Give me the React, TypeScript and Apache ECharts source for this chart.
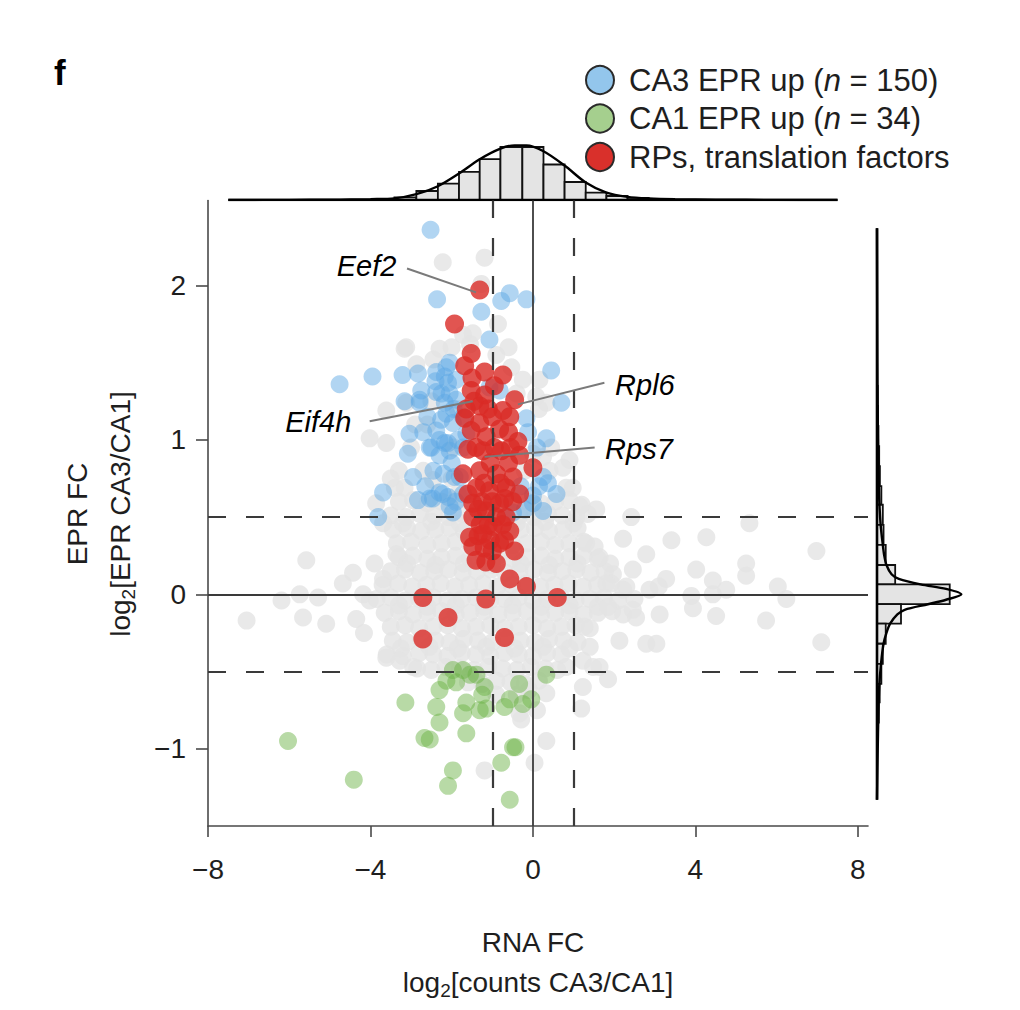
import React, { useEffect, useRef } from "react";
import * as echarts from "echarts";

const FONT = "'Liberation Sans', Arial, Helvetica, sans-serif";

// ---------- axis ticks ----------
const xTickValues = [-8, -4, 0, 4, 8];
const yTickValues = [-1, 0, 1, 2];
const xRange = [-8, 8.25];
const yRange = [-1.5, 2.55];

// ---------- legend ----------
const legendLabels = [
  "CA3 EPR up ({i|n} = 150)",
  "CA1 EPR up ({i|n} = 34)",
  "RPs, translation factors",
];

// ---------- reference lines ----------
const solidX = [0];
const solidY = [0];
const dashedX = [-1, 1];
const dashedY = [-0.5, 0.5];

// ---------- points: RNA FC (x), EPR FC (y) ----------
const grayCore: number[][] = [
  [-3.3,0.6],[-2.95,0.61],[-2.6,0.59],[-2.25,0.6],[-1.9,0.61],[-1.55,0.6],[-1.2,0.59],[-0.85,0.6],[-0.5,0.61],[-0.15,0.6],[0.2,0.59],[0.55,0.6],[0.9,0.61],[1.2,0.58],
  [-3.5,0.51],[-3.12,0.5],[-2.78,0.52],[-2.43,0.51],[-2.08,0.5],[-1.73,0.52],[-1.38,0.51],[-1.03,0.5],[-0.68,0.52],[-0.33,0.51],[0.02,0.5],[0.37,0.52],[0.72,0.51],[1.07,0.5],[1.35,0.52],
  [-3.45,0.42],[-3.1,0.43],[-2.75,0.41],[-2.4,0.42],[-2.05,0.43],[-1.7,0.41],[-1.35,0.42],[-1.0,0.43],[-0.65,0.41],[-0.3,0.42],[0.05,0.43],[0.4,0.41],[0.75,0.42],[1.1,0.43],
  [-3.35,0.33],[-3.0,0.34],[-2.6,0.32],[-2.25,0.33],[-1.9,0.34],[-1.55,0.32],[-1.2,0.33],[-0.85,0.34],[-0.5,0.32],[-0.15,0.33],[0.2,0.34],[0.55,0.32],[0.9,0.33],[1.25,0.34],
  [-3.3,0.24],[-2.95,0.25],[-2.6,0.23],[-2.25,0.24],[-1.9,0.25],[-1.55,0.23],[-1.2,0.24],[-0.85,0.25],[-0.5,0.23],[-0.15,0.24],[0.2,0.25],[0.55,0.23],[0.9,0.24],[1.25,0.25],[1.6,0.23],
  [-3.5,0.15],[-3.15,0.16],[-2.78,0.14],[-2.43,0.15],[-2.08,0.16],[-1.73,0.14],[-1.38,0.15],[-1.03,0.16],[-0.68,0.14],[-0.33,0.15],[0.02,0.16],[0.37,0.14],[0.72,0.15],[1.07,0.16],[1.42,0.14],[1.77,0.15],
  [-3.7,0.06],[-3.32,0.07],[-2.97,0.05],[-2.62,0.06],[-2.27,0.07],[-1.92,0.05],[-1.57,0.06],[-1.22,0.07],[-0.87,0.05],[-0.52,0.06],[-0.17,0.07],[0.18,0.05],[0.53,0.06],[0.88,0.07],[1.23,0.05],[1.58,0.06],[1.93,0.07],[2.3,0.05],
  [-3.85,-0.03],[-3.5,-0.02],[-3.15,-0.04],[-2.8,-0.03],[-2.45,-0.02],[-2.1,-0.04],[-1.75,-0.03],[-1.4,-0.02],[-1.05,-0.04],[-0.7,-0.03],[-0.35,-0.02],[0.0,-0.04],[0.35,-0.03],[0.7,-0.02],[1.05,-0.04],[1.4,-0.03],[1.75,-0.02],[2.1,-0.04],[2.5,-0.03],
  [-3.65,-0.12],[-3.3,-0.11],[-2.95,-0.13],[-2.6,-0.12],[-2.25,-0.11],[-1.9,-0.13],[-1.55,-0.12],[-1.2,-0.11],[-0.85,-0.13],[-0.5,-0.12],[-0.15,-0.11],[0.2,-0.13],[0.55,-0.12],[0.9,-0.11],[1.25,-0.13],[1.6,-0.12],[1.95,-0.11],
  [-3.5,-0.21],[-3.15,-0.2],[-2.8,-0.22],[-2.45,-0.21],[-2.1,-0.2],[-1.75,-0.22],[-1.4,-0.21],[-1.05,-0.2],[-0.7,-0.22],[-0.35,-0.21],[0.0,-0.2],[0.35,-0.22],[0.7,-0.21],[1.05,-0.2],[1.4,-0.22],
  [-3.45,-0.3],[-3.1,-0.31],[-2.75,-0.29],[-2.4,-0.3],[-2.05,-0.31],[-1.7,-0.29],[-1.35,-0.3],[-1.0,-0.31],[-0.65,-0.29],[-0.3,-0.3],[0.05,-0.31],[0.4,-0.29],[0.75,-0.3],[1.1,-0.31],
  [-3.6,-0.39],[-3.2,-0.4],[-2.8,-0.38],[-2.45,-0.39],[-2.1,-0.4],[-1.75,-0.38],[-1.4,-0.39],[-1.05,-0.4],[-0.7,-0.38],[-0.35,-0.39],[0.0,-0.4],[0.35,-0.38],[0.7,-0.39],
  [-2.85,-0.48],[-2.5,-0.49],[-2.15,-0.47],[-1.8,-0.48],[-1.45,-0.49],[-1.1,-0.47],[-0.75,-0.48],[-0.4,-0.49],[-0.05,-0.47],[0.3,-0.48],[0.6,-0.49],
  [-1.6,-0.57],[-1.25,-0.58],[-0.9,-0.56],[-0.55,-0.57],[-0.2,-0.58],[0.15,-0.56],
  [-3.2,0.46],[-2.5,0.47],[-1.8,0.46],[-1.1,0.47],[-0.4,0.46],[0.3,0.47],[1.0,0.46],
  [-3.1,0.2],[-2.4,0.19],[-1.7,0.2],[-1.0,0.19],[-0.3,0.2],[0.4,0.19],[1.1,0.2],[1.9,0.2],
  [-3.3,-0.07],[-2.6,-0.08],[-1.9,-0.07],[-1.2,-0.08],[-0.5,-0.07],[0.2,-0.08],[0.9,-0.07],[1.6,-0.08],
  [-3.25,-0.35],[-2.55,-0.34],[-1.85,-0.35],[-1.15,-0.34],[-0.45,-0.35],[0.25,-0.34],[0.9,-0.35],
];

const grayLeft: number[][] = [
  [-7.05,-0.17],[-6.19,-0.04],[-5.74,0.0],[-5.66,-0.15],[-5.58,0.22],[-5.29,-0.02],[-5.09,-0.19],
  [-4.68,0.07],[-4.43,0.14],[-4.35,-0.16],[-4.16,-0.25],[-4.02,-0.04],[-4.18,0.0],[-3.9,0.2],
  [-3.69,0.10],[-3.36,0.26],[-3.61,-0.41],[-3.28,-0.43],[-2.95,-0.47],[-3.86,0.59],[-3.69,0.46],
];

const grayRight: number[][] = [
  [0.98,0.69],[1.56,0.55],[2.42,0.50],[2.22,0.36],[3.41,0.35],[4.27,0.37],[5.33,0.46],[6.98,0.28],
  [2.79,0.26],[1.52,0.31],[1.97,0.13],[2.46,0.16],[3.28,0.10],[4.02,0.16],[4.43,0.09],[5.25,0.20],
  [5.25,0.12],[1.81,0.07],[2.22,0.03],[2.87,0.03],[3.1,0.05],[3.90,-0.01],[4.43,0.0],[4.76,0.03],
  [6.03,0.05],[6.24,-0.03],[1.85,-0.08],[2.22,-0.13],[2.54,-0.15],[3.12,-0.13],[3.94,-0.09],
  [4.51,-0.14],[5.74,-0.17],[1.27,-0.21],[3.04,-0.32],[7.10,-0.31],[1.40,-0.34],[1.23,-0.43],
  [1.64,-0.47],[2.13,-0.30],[2.79,-0.32],[1.48,-0.47],[1.85,-0.55],[1.23,-0.60],[1.19,-0.74],
  [2.46,-0.10],[1.31,0.33],[1.64,0.24],[0.82,-0.47],
];

const grayBelow: number[][] = [
  [-1.19,-1.14],[-0.29,-0.81],[0.04,-1.09],[0.33,-0.95],[0.33,-0.64],[-0.1,-0.62],[0.1,-0.75],
  [-0.4,-0.65],[-0.9,-0.65],[-0.33,-0.77],
];

const grayTop: number[][] = [
  [-1.19,2.18],[-2.22,2.15],[-1.27,2.01],[-0.86,1.75],[-1.72,1.68],[-1.48,1.69],[-3.16,1.59],
  [-2.30,1.59],[-2.87,1.49],[-0.53,1.47],[-0.25,1.39],[-3.61,1.19],[-4.02,1.01],[-3.61,0.98],
  [-3.12,1.24],[0.33,1.24],[0.16,1.39],[0.08,1.28],[0.90,0.87],[0.74,0.82],[0.41,0.80],[0.82,0.69],
  [1.15,0.57],[-3.16,0.69],[-3.40,0.69],[-2.46,0.74],[0.0,0.91],[0.25,0.89],[-3.12,1.60],
  [-3.3,0.8],[-2.7,0.8],[-2.0,0.75],[-2.6,1.1],[-1.95,0.95],[-2.9,1.1],[-2.5,1.25],[-1.85,1.2],
  [-2.45,1.52],[-2.0,1.6],[-1.55,1.62],[-0.9,1.55],[-0.6,1.6],[-0.4,1.3],[-0.2,0.8],[0.45,0.95],
  [0.15,1.2],[-1.85,0.65],[-3.5,0.75],[-3.0,0.95],
];

const bluePoints: number[][] = [
  [-2.52,2.36],[-2.36,1.91],[-0.78,1.90],[-0.57,1.95],[-0.16,1.91],[-1.27,1.83],[-1.07,1.65],
  [-4.76,1.36],[-3.95,1.41],[-3.21,1.42],[-2.83,1.43],[-2.38,1.44],[-2.05,1.50],[-2.17,1.41],
  [-1.89,1.39],[0.45,1.45],[0.70,1.24],[-2.75,1.32],[-2.38,1.31],[-2.05,1.30],[-0.82,1.32],
  [-2.79,1.24],[-3.16,1.25],[-2.13,1.17],[-1.97,1.11],[-3.04,1.04],[-2.38,1.06],[-2.30,1.00],
  [-2.26,1.13],[-0.16,1.14],[-0.12,1.05],[0.33,1.01],[-2.50,0.95],[-2.17,0.98],[-2.05,0.93],
  [-3.08,0.91],[-2.30,0.90],[-2.95,0.76],[-1.93,0.76],[-1.80,0.76],[0.25,0.76],[0.37,0.72],
  [0.58,0.65],[-2.83,0.61],[-2.46,0.62],[-2.22,0.65],[-2.05,0.57],[-1.97,0.53],[0.0,0.59],
  [0.0,0.64],[0.25,0.54],[-0.49,0.53],[-3.69,0.66],[-3.81,0.50],[-2.54,0.62],[-2.30,0.66],
  [-2.09,0.63],[-2.54,0.95],[-2.09,0.98],[-1.72,1.15],[-1.64,1.04],[-1.72,0.95],[-1.72,0.65],
  [-1.07,1.34],[-2.79,1.26],[-2.17,1.24],[-1.89,1.26],[-2.13,1.47],[-2.09,1.37],
  [-2.6,1.15],[-2.45,0.8],[-2.2,0.78],[-2.0,0.85],[-1.85,1.0],[-2.4,1.38],[-2.65,0.7],
  [-1.9,0.6],[-0.3,0.7],[0.1,0.95],[-2.7,1.05],[-1.95,1.2],[-2.25,1.3],[-0.2,0.55],[0.15,0.7],
];

const greenPoints: number[][] = [
  [-6.03,-0.95],[-4.41,-1.20],[-3.14,-0.70],[-2.38,-0.73],[-2.30,-0.83],[-2.67,-0.93],[-2.54,-0.94],
  [-2.30,-0.62],[-2.13,-0.56],[-1.97,-0.49],[-1.72,-0.49],[-1.39,-0.52],[-1.89,-0.57],[-1.19,-0.60],
  [-1.64,-0.70],[-1.72,-0.77],[-1.31,-0.75],[-1.15,-0.74],[-1.64,-0.90],[-0.70,-0.73],[-0.57,-0.68],
  [-0.34,-0.58],[-0.25,-0.71],[-0.04,-0.68],[0.33,-0.52],[-0.49,-0.99],[-0.43,-0.99],[-0.78,-1.09],
  [-1.97,-1.14],[-2.09,-1.24],[-0.57,-1.33],[-1.55,-0.52],[-1.25,-0.65],
];

const redPoints: number[][] = [
  [-1.31,1.97],[-1.93,1.75],[-1.52,1.56],[-1.68,1.48],[-1.19,1.44],[-0.74,1.42],[-1.52,1.32],
  [-1.19,1.29],[-0.45,1.26],[-1.64,1.20],[-1.31,1.22],[-0.74,1.19],[-0.57,1.15],[-1.68,1.14],
  [-1.31,1.11],[-1.52,1.06],[-0.82,1.07],[-0.37,0.99],[-1.15,1.02],[-1.60,0.94],[-1.23,0.93],
  [-0.78,0.93],[-0.33,0.90],[0.0,0.82],[-1.72,0.78],[-1.31,0.80],[-0.90,0.78],[-0.49,0.76],
  [-1.39,0.69],[-1.07,0.67],[-0.66,0.69],[-0.33,0.65],[-1.48,0.59],[-0.82,0.59],[-1.15,0.54],
  [-1.48,0.50],[-0.66,0.50],[-0.98,0.44],[-0.57,0.41],[-1.56,0.37],[-1.23,0.39],[-1.48,0.31],
  [-0.82,0.33],[-0.45,0.28],[-1.16,0.21],[-0.57,0.10],[-0.16,0.05],[-2.71,-0.02],[-1.16,-0.03],
  [0.60,-0.02],[-2.09,-0.15],[-2.71,-0.29],[-0.70,-0.28],
  [-1.0,1.15],[-0.95,0.95],[-1.05,0.85],[-0.6,0.85],[-1.25,0.6],[-1.0,0.6],[-0.9,0.5],
  [-1.3,0.45],[-0.75,0.45],[-1.05,0.35],
  [-1.45,1.25],[-1.1,1.2],[-0.6,1.05],[-1.4,0.95],[-0.55,0.95],[-1.6,0.65],[-0.5,0.6],
  [-1.35,0.55],[-0.7,0.62],[-1.2,0.72],[-0.8,0.72],[-1.1,0.45],[-1.35,0.38],[-0.7,0.35],
  [-1.2,0.3],[-1.0,0.28],[-1.4,0.22],[-0.9,0.2],[-1.5,1.4],[-0.95,1.35],
];

// ---------- gene labels ----------
const geneNames = ["Eef2", "Eif4h", "Rpl6", "Rps7"];
const geneTextAnchor = [[-3.35, 2.124], [-4.46, 1.117], [2.01, 1.354], [1.765, 0.942]];
const geneTextSide = ["left", "left", "right", "right"];
const geneLineFrom = [[-3.10, 2.11], [-4.02, 1.12], [1.76, 1.37], [1.52, 0.95]];
const geneLineTo = [[-1.40, 1.955], [-1.48, 1.25], [-0.37, 1.23], [-1.19, 0.89]];

// ---------- marginal histograms ----------
const topHistBins: number[][] = [
  [-3.93,-3.41,1.5],[-3.41,-2.87,5],[-2.87,-2.34,17],[-2.34,-1.82,31],[-1.82,-1.31,53],
  [-1.31,-0.80,77],[-0.80,-0.26,100],[-0.26,0.26,100],[0.26,0.78,67],[0.78,1.30,34],
  [1.30,1.81,14],[1.81,2.33,7.5],[2.33,2.85,4],[2.85,3.37,1.5],
];
const topCurve: number[][] = [
  [-7.5,0],[-6,0.3],[-5,0.6],[-4.5,1],[-4,1.6],[-3.41,3],[-2.87,11],[-2.34,26],[-1.82,50],
  [-1.31,77],[-0.8,97],[-0.45,103],[-0.16,103],[0.26,92],[0.78,65],[1.3,33],[1.81,14],
  [2.33,6],[2.85,3],[3.5,1.5],[4.5,0.6],[6,0.2],[7.5,0],
];
const topBaseline: number[][] = [[-7.5, 0], [7.5, 0]];

const rightHistBins: number[][] = [
  [1.22,1.35,1],[1.09,1.22,1.5],[0.96,1.09,2],[0.83,0.96,3],[0.70,0.83,4],[0.58,0.70,6],
  [0.45,0.58,8],[0.32,0.45,9],[0.19,0.32,12],[0.064,0.19,25],[-0.064,0.064,100],
  [-0.19,-0.064,33],[-0.32,-0.19,12],[-0.45,-0.32,8],[-0.58,-0.45,6],[-0.70,-0.58,3.7],
  [-0.83,-0.70,2.5],[-0.96,-0.83,1.5],
];
const rightCurve: number[][] = [
  [2.37,0],[2,0.2],[1.5,0.5],[1.2,0.8],[1.0,1.2],[0.8,2],[0.6,3.2],[0.45,5],[0.32,8],[0.25,10],
  [0.19,13],[0.13,20],[0.1,30],[0.064,60],[0.035,95],[0,116],[-0.035,95],[-0.064,70],[-0.1,38],
  [-0.13,28],[-0.19,18],[-0.25,13],[-0.32,9],[-0.45,5.5],[-0.6,3],[-0.8,1.8],[-1.0,1],[-1.33,0],
];
const rightBaseline: number[][] = [[2.37, 0], [-1.33, 0]];

const minus = (v: number) => (v < 0 ? "\u2212" + Math.abs(v) : String(v));

function buildOption() {
  const dash = [18, 20];
  const refLine = "#3a3a3a";
  const markLineData: any[] = [
    ...solidX.map((v) => ({ xAxis: v, lineStyle: { type: "solid", width: 1.8, color: refLine } })),
    ...solidY.map((v) => ({ yAxis: v, lineStyle: { type: "solid", width: 1.8, color: refLine } })),
    ...dashedX.map((v) => ({ xAxis: v, lineStyle: { type: dash, width: 2.2, color: refLine } })),
    ...dashedY.map((v) => ({ yAxis: v, lineStyle: { type: dash, width: 2.2, color: refLine } })),
  ];

  const histRectTop = (params: any, api: any) => {
    const lo = api.value(0), hi = api.value(1), h = api.value(2);
    const p0 = api.coord([lo, 0]);
    const p1 = api.coord([hi, h]);
    return {
      type: "rect",
      shape: { x: p0[0], y: p1[1], width: p1[0] - p0[0], height: p0[1] - p1[1] },
      style: { fill: "#e4e4e4", stroke: "#111", lineWidth: 1.8 },
    };
  };
  const histRectRight = (params: any, api: any) => {
    const lo = api.value(0), hi = api.value(1), h = api.value(2);
    const p0 = api.coord([0, lo]);
    const p1 = api.coord([h, hi]);
    return {
      type: "rect",
      shape: { x: p0[0], y: p1[1], width: p1[0] - p0[0], height: p0[1] - p1[1] },
      style: { fill: "#e4e4e4", stroke: "#111", lineWidth: 1.8 },
    };
  };

  const legendColors = ["#93c6ec", "#a5cf8e", "#d9302b"];
  const legendY = [80, 118.5, 157];
  const legendGraphics: any[] = [];
  legendLabels.forEach((t, i) => {
    legendGraphics.push({
      type: "circle",
      shape: { cx: 600, cy: legendY[i], r: 14 },
      style: { fill: legendColors[i], stroke: "#2a2a2a", lineWidth: 2 },
    });
    legendGraphics.push({
      type: "text",
      x: 629,
      y: legendY[i],
      style: {
        text: t,
        fontSize: 31,
        fontFamily: FONT,
        fill: "#1e1e1e",
        verticalAlign: "middle",
        align: "left",
        rich: { i: { fontStyle: "italic", fontSize: 31, fontFamily: FONT, fill: "#1e1e1e" } },
      },
    });
  });

  const titleRich = {
    n: { fontSize: 28, fontFamily: FONT, fill: "#1e1e1e" },
    s: { fontSize: 19, fontFamily: FONT, fill: "#1e1e1e", padding: [16, 0, 0, 0] },
  };

  return {
    animation: false,
    backgroundColor: "#ffffff",
    grid: [
      { left: 208, top: 200.5, width: 660, height: 625.5 },
      { left: 208, top: 140, width: 660, height: 60 },
      { left: 877, top: 200.5, width: 100, height: 625.5 },
    ],
    xAxis: [
      {
        gridIndex: 0,
        type: "value",
        min: xRange[0],
        max: xRange[1],
        axisLine: { show: true, onZero: false, lineStyle: { color: "#4a4a4a", width: 1.6 } },
        axisTick: { show: true, customValues: xTickValues, length: 11, lineStyle: { color: "#4a4a4a", width: 1.6 } },
        axisLabel: { customValues: xTickValues, formatter: minus, fontSize: 28, color: "#1e1e1e", margin: 29, fontFamily: FONT },
        splitLine: { show: false },
      },
      { gridIndex: 1, type: "value", min: xRange[0], max: xRange[1], show: false },
      { gridIndex: 2, type: "value", min: 0, max: 137.5, show: false },
    ],
    yAxis: [
      {
        gridIndex: 0,
        type: "value",
        min: yRange[0],
        max: yRange[1],
        axisLine: { show: true, onZero: false, lineStyle: { color: "#4a4a4a", width: 1.6 } },
        axisTick: { show: true, customValues: yTickValues, length: 12, lineStyle: { color: "#4a4a4a", width: 1.6 } },
        axisLabel: { customValues: yTickValues, formatter: minus, fontSize: 28, color: "#1e1e1e", margin: 22, fontFamily: FONT },
        splitLine: { show: false },
      },
      { gridIndex: 1, type: "value", min: 0, max: 113.2, show: false },
      { gridIndex: 2, type: "value", min: yRange[0], max: yRange[1], show: false },
    ],
    series: [
      {
        name: "other",
        type: "scatter",
        xAxisIndex: 0,
        yAxisIndex: 0,
        z: 1,
        symbolSize: 18,
        itemStyle: { color: "#e3e3e3" },
        data: [...grayCore, ...grayLeft, ...grayRight, ...grayBelow, ...grayTop],
        silent: true,
      },
      {
        name: "refs",
        type: "scatter",
        xAxisIndex: 0,
        yAxisIndex: 0,
        z: 2,
        symbolSize: 0,
        data: [],
        silent: true,
        markLine: { symbol: ["none", "none"], silent: true, label: { show: false }, data: markLineData },
      },
      {
        name: "CA3 EPR up",
        type: "scatter",
        z: 3,
        symbolSize: 18,
        itemStyle: { color: "rgba(92,168,227,0.6)" },
        data: bluePoints,
        silent: true,
      },
      {
        name: "CA1 EPR up",
        type: "scatter",
        z: 3,
        symbolSize: 18,
        itemStyle: { color: "rgba(107,177,68,0.6)" },
        data: greenPoints,
        silent: true,
      },
      {
        name: "RPs",
        type: "scatter",
        z: 4,
        symbolSize: 19,
        itemStyle: { color: "#d92b26" },
        data: redPoints,
        silent: true,
      },
      {
        name: "genes",
        type: "scatter",
        z: 5,
        symbolSize: 1,
        itemStyle: { opacity: 0 },
        silent: true,
        data: geneNames.map((g, i) => ({
          value: geneTextAnchor[i],
          label: {
            show: true,
            formatter: g,
            position: geneTextSide[i],
            distance: 0,
            fontStyle: "italic",
            fontSize: 29,
            fontFamily: FONT,
            color: "#000",
            opacity: 1,
          },
        })),
        markLine: {
          symbol: ["none", "none"],
          silent: true,
          label: { show: false },
          lineStyle: { color: "#7a7a7a", width: 2, type: "solid", opacity: 1 },
          data: geneNames.map((g, i) => [{ coord: geneLineFrom[i] }, { coord: geneLineTo[i] }]),
        },
      },
      {
        name: "topHist",
        type: "custom",
        xAxisIndex: 1,
        yAxisIndex: 1,
        renderItem: histRectTop,
        encode: { x: [0, 1], y: 2 },
        data: topHistBins,
        silent: true,
      },
      {
        name: "topBase",
        type: "line",
        xAxisIndex: 1,
        yAxisIndex: 1,
        symbol: "none",
        lineStyle: { color: "#000", width: 2.6 },
        data: topBaseline,
        silent: true,
      },
      {
        name: "topCurve",
        type: "line",
        xAxisIndex: 1,
        yAxisIndex: 1,
        symbol: "none",
        smooth: 0.3,
        lineStyle: { color: "#000", width: 2.4 },
        data: topCurve,
        silent: true,
      },
      {
        name: "rightHist",
        type: "custom",
        xAxisIndex: 2,
        yAxisIndex: 2,
        renderItem: histRectRight,
        encode: { x: 2, y: [0, 1] },
        data: rightHistBins,
        silent: true,
      },
      {
        name: "rightBase",
        type: "line",
        xAxisIndex: 2,
        yAxisIndex: 2,
        symbol: "none",
        lineStyle: { color: "#000", width: 2.6 },
        data: rightBaseline.map((p) => [p[1], p[0]]),
        silent: true,
      },
      {
        name: "rightCurve",
        type: "line",
        xAxisIndex: 2,
        yAxisIndex: 2,
        symbol: "none",
        smooth: 0.3,
        lineStyle: { color: "#000", width: 2.4 },
        data: rightCurve.map((p) => [p[1], p[0]]),
        silent: true,
      },
    ],
    graphic: [
      {
        type: "text",
        x: 54,
        y: 72,
        style: { text: "f", fontSize: 35, fontWeight: "bold", fontFamily: FONT, fill: "#000", verticalAlign: "middle" },
      },
      ...legendGraphics,
      {
        type: "text",
        x: 533,
        y: 942,
        style: { text: "RNA FC", fontSize: 28, fontFamily: FONT, fill: "#1e1e1e", align: "center", verticalAlign: "middle" },
      },
      {
        type: "text",
        x: 538,
        y: 982,
        style: {
          text: "{n|log}{s|2}{n|[counts CA3/CA1]}",
          rich: titleRich,
          align: "center",
          verticalAlign: "middle",
        },
      },
      {
        type: "text",
        x: 77,
        y: 514,
        rotation: Math.PI / 2,
        style: { text: "EPR FC", fontSize: 28, fontFamily: FONT, fill: "#1e1e1e", align: "center", verticalAlign: "middle" },
      },
      {
        type: "text",
        x: 120,
        y: 514,
        rotation: Math.PI / 2,
        style: {
          text: "{n|log}{s|2}{n|[EPR CA3/CA1]}",
          rich: titleRich,
          align: "center",
          verticalAlign: "middle",
        },
      },
    ],
  };
}

export default function App() {
  const ref = useRef<HTMLDivElement>(null);
  useEffect(() => {
    if (!ref.current) return;
    const chart = echarts.init(ref.current, null, { renderer: "svg" });
    chart.setOption(buildOption() as any);
    return () => chart.dispose();
  }, []);
  return (
    <div
      ref={ref}
      style={{ position: "fixed", left: 0, top: 0, width: 1020, height: 1010, background: "#ffffff" }}
    />
  );
}
